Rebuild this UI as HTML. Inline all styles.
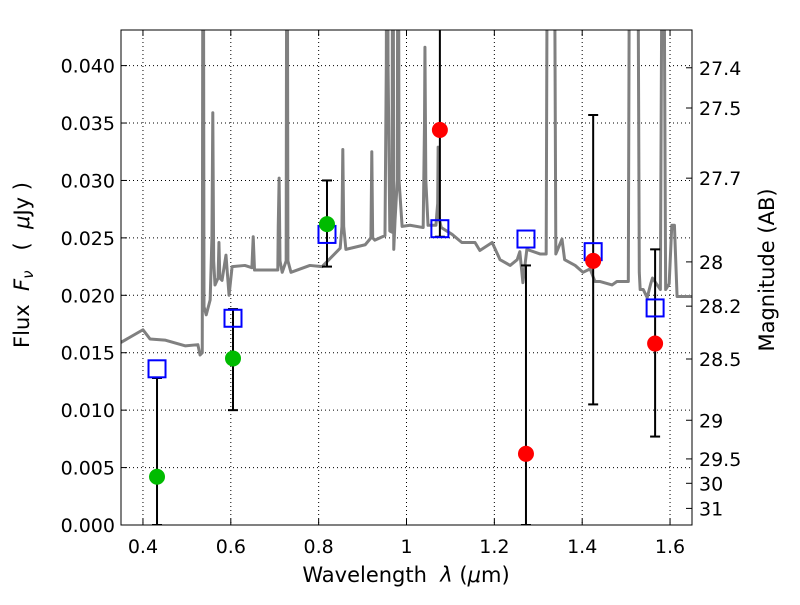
<!DOCTYPE html>
<html><head><meta charset="utf-8"><style>
body{margin:0;background:#fff}
svg text{font-family:"DejaVu Sans","Liberation Sans",sans-serif;fill:#000}
</style></head><body>
<svg id="chart" width="800" height="600" xmlns="http://www.w3.org/2000/svg">
<rect width="800" height="600" fill="#fff"/>
<defs><clipPath id="clip"><rect x="121" y="30" width="571" height="495"/></clipPath></defs>
<g id="grid"></g>
<g id="spec" clip-path="url(#clip)"></g>
<g id="marks" clip-path="url(#clip)"></g>
<rect x="121" y="30" width="571" height="495" fill="none" stroke="#000" stroke-width="1"/>
<g id="axes"></g>
<text x="406" y="582" font-size="21" text-anchor="middle" xml:space="preserve">Wavelength  <tspan font-style="italic">λ</tspan> (<tspan font-style="italic">μ</tspan>m)</text>
<text transform="translate(29,265) rotate(-90)" font-size="21" text-anchor="middle" xml:space="preserve">Flux  <tspan font-style="italic">F</tspan><tspan font-style="italic" font-size="15" dy="4">ν</tspan><tspan dy="-4">   (  </tspan><tspan font-style="italic">μ</tspan>Jy )</text>
<text transform="translate(774,270) rotate(-90)" font-size="21" text-anchor="middle">Magnitude (AB)</text>
</svg>
<script>
const specLam=[0.350,0.400,0.416,0.450,0.496,0.525,0.530,0.535,0.537,0.539,0.544,0.553,0.557,0.559,0.561,0.564,0.571,0.573,0.575,0.580,0.589,0.596,0.603,0.632,0.648,0.651,0.654,0.707,0.708,0.710,0.712,0.717,0.726,0.728,0.730,0.737,0.780,0.808,0.849,0.853,0.855,0.857,0.862,0.906,0.919,0.921,0.923,0.928,0.951,0.954,0.956,0.958,0.962,0.967,0.969,0.971,0.974,0.979,0.981,0.983,0.990,1.008,1.038,1.041,1.042,1.044,1.049,1.067,1.071,1.072,1.073,1.079,1.104,1.126,1.156,1.167,1.195,1.213,1.236,1.252,1.258,1.265,1.274,1.304,1.318,1.322,1.335,1.340,1.354,1.360,1.384,1.402,1.418,1.429,1.441,1.468,1.479,1.490,1.505,1.509,1.525,1.530,1.532,1.539,1.548,1.556,1.560,1.578,1.584,1.590,1.598,1.604,1.610,1.616,1.650];
const specFlux=[0.0159,0.0170,0.0162,0.0161,0.0156,0.0157,0.0148,0.0150,0.0700,0.0190,0.0183,0.0196,0.0250,0.0359,0.0230,0.0209,0.0215,0.0246,0.0215,0.0213,0.0235,0.0200,0.0225,0.0226,0.0224,0.0251,0.0222,0.0222,0.0260,0.0302,0.0230,0.0220,0.0230,0.0700,0.0230,0.0220,0.0226,0.0225,0.0241,0.0260,0.0327,0.0260,0.0240,0.0244,0.0250,0.0325,0.0250,0.0248,0.0252,0.0400,0.0700,0.0400,0.0256,0.0255,0.0700,0.0240,0.0266,0.0300,0.0700,0.0300,0.0260,0.0261,0.0259,0.0350,0.0416,0.0300,0.0261,0.0261,0.0280,0.0329,0.0270,0.0259,0.0253,0.0246,0.0246,0.0239,0.0246,0.0231,0.0226,0.0231,0.0238,0.0211,0.0240,0.0236,0.0236,0.0700,0.0700,0.0236,0.0249,0.0231,0.0226,0.0220,0.0223,0.0212,0.0212,0.0209,0.0212,0.0212,0.0212,0.0700,0.0700,0.0220,0.0205,0.0205,0.0198,0.0210,0.0215,0.0205,0.0700,0.0205,0.0210,0.0261,0.0261,0.0199,0.0199];
const modelLam=[0.432,0.605,0.819,1.076,1.272,1.425,1.566];
const modelFlux=[0.0136,0.0180,0.0253,0.0258,0.0249,0.0238,0.0189];
const obsLam=[0.432,0.605,0.819,1.076,1.272,1.425,1.566];
const obsFlux=[0.0042,0.0145,0.0262,0.0344,0.0062,0.0230,0.0158];
const obsColor=["#00bb00","#00bb00","#00bb00","#ff0000","#ff0000","#ff0000","#ff0000"];
const errLo=[0.0,0.0100,0.0225,0.0251,0.0,0.0105,0.0077];
const errHi=[0.0128,0.0188,0.0300,0.0600,0.0226,0.0357,0.0240];
const xTicks=[0.4,0.6,0.8,1.0,1.2,1.4,1.6];
const xTickLabels=["0.4","0.6","0.8","1","1.2","1.4","1.6"];
const yTicks=[0,0.005,0.010,0.015,0.020,0.025,0.030,0.035,0.040];
const yTickLabels=["0.000","0.005","0.010","0.015","0.020","0.025","0.030","0.035","0.040"];
const magTicks=[27.4,27.5,27.7,28,28.2,28.5,29,29.5,30,31];
const magTickLabels=["27.4","27.5","27.7","28","28.2","28.5","29","29.5","30","31"];

const NS="http://www.w3.org/2000/svg";
const X0=121,X1=692,Y0=525,Y1=30,XMIN=0.35,XMAX=1.65,YMIN=0,YMAX=0.0431;
function sx(v){return X0+(v-XMIN)/(XMAX-XMIN)*(X1-X0);}
function sy(v){return Y0-(v-YMIN)/(YMAX-YMIN)*(Y0-Y1);}
function magToFlux(m){return Math.pow(10,(23.9-m)/2.5);}
function mk(tag,attrs,parent){const e=document.createElementNS(NS,tag);for(const k in attrs)e.setAttribute(k,attrs[k]);parent.appendChild(e);return e;}
const grid=document.getElementById('grid'),axes=document.getElementById('axes'),spec=document.getElementById('spec'),marks=document.getElementById('marks');

xTicks.forEach((t,i)=>{const x=sx(t);
 const g=mk('line',{x1:x,x2:x,y1:Y1,y2:Y0,stroke:'#000','stroke-width':1,'stroke-dasharray':'1,3'},grid);
 
 
 mk('line',{x1:x,x2:x,y1:Y0,y2:Y0-6,stroke:'#000'},axes);
 mk('line',{x1:x,x2:x,y1:Y1,y2:Y1+6,stroke:'#000'},axes);
 const tx=mk('text',{x:x,y:553,'font-size':19,'text-anchor':'middle'},axes);tx.textContent=xTickLabels[i];
 
 
});
yTicks.forEach((t,i)=>{const y=sy(t);
 const g=mk('line',{x1:X0,x2:X1,y1:y,y2:y,stroke:'#000','stroke-width':1,'stroke-dasharray':'1,3'},grid);
 
 
 mk('line',{x1:X0,x2:X0+6,y1:y,y2:y,stroke:'#000'},axes);
 const tx=mk('text',{x:115,y:y+7,'font-size':19,'text-anchor':'end'},axes);tx.textContent=yTickLabels[i];
 
 
});
magTicks.forEach((m,i)=>{const y=sy(magToFlux(m));
 mk('line',{x1:X1,x2:X1-6,y1:y,y2:y,stroke:'#000'},axes);
 const tx=mk('text',{x:699,y:y+7,'font-size':19,'text-anchor':'start'},axes);tx.textContent=magTickLabels[i];
 
 
});

const p=mk('polyline',{points:specLam.map((l,i)=>sx(l)+','+sy(specFlux[i])).join(' '),fill:'none',stroke:'#808080','stroke-width':3,'stroke-linejoin':'round'},spec);



obsLam.forEach((l,i)=>{const x=sx(l);
 const e=mk('line',{x1:x,x2:x,y1:sy(errLo[i]),y2:sy(errHi[i]),stroke:'#000','stroke-width':2},marks);
 
 
 mk('line',{x1:x-5,x2:x+5,y1:sy(errLo[i]),y2:sy(errLo[i]),stroke:'#000','stroke-width':2},marks);
 mk('line',{x1:x-5,x2:x+5,y1:sy(errHi[i]),y2:sy(errHi[i]),stroke:'#000','stroke-width':2},marks);
});
modelLam.forEach((l,i)=>{
 const r=mk('rect',{x:sx(l)-8.5,y:sy(modelFlux[i])-8.5,width:17,height:17,fill:'none',stroke:'#0000ff','stroke-width':2},marks);
 
 
});
obsLam.forEach((l,i)=>{
 const c=mk('circle',{cx:sx(l),cy:sy(obsFlux[i]),r:8,fill:obsColor[i]},marks);
 
 
});
</script>
</body></html>
